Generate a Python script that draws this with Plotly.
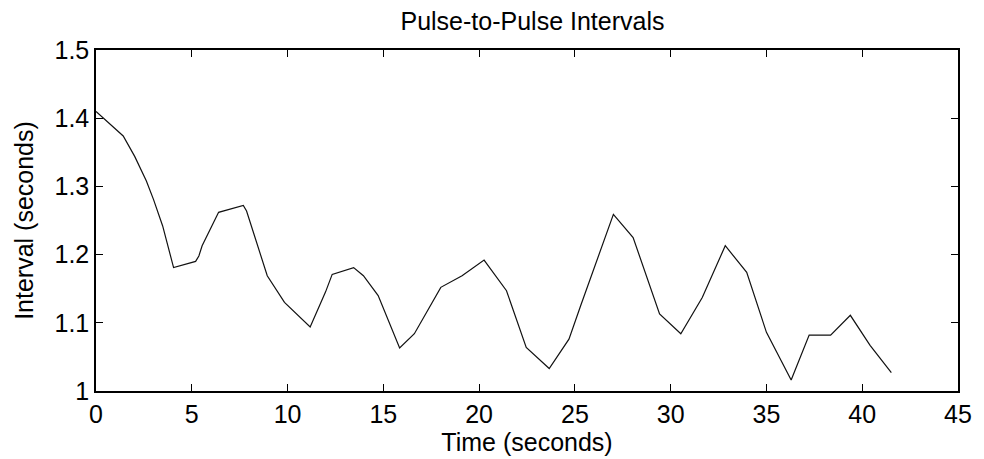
import plotly.graph_objects as go

time_s = [0.0, 1.42, 2.02, 2.63, 3.0, 3.48, 4.05, 5.2, 5.37, 5.54, 6.40, 7.09, 7.69, 7.86,
          8.38, 8.94, 9.84, 11.18, 11.98, 12.33, 13.45, 13.96, 14.73, 15.85, 16.62, 18.0,
          19.11, 20.26, 21.43, 22.46, 23.66, 24.69, 25.3, 27.01, 28.04, 29.42, 30.53,
          31.65, 32.85, 33.45, 33.97, 35.0, 36.29, 37.23, 38.35, 39.38, 40.41, 41.52]
interval_s = [1.41, 1.374, 1.344, 1.308, 1.281, 1.242, 1.181, 1.19, 1.198, 1.213, 1.262,
              1.267, 1.272, 1.264, 1.218, 1.169, 1.130, 1.094, 1.145, 1.171, 1.181, 1.169,
              1.140, 1.063, 1.084, 1.152, 1.169, 1.192, 1.147, 1.064, 1.033, 1.076, 1.125,
              1.259, 1.225, 1.113, 1.084, 1.137, 1.213, 1.193, 1.174, 1.086, 1.016, 1.082,
              1.082, 1.111, 1.067, 1.027]

x_ticks = [0, 5, 10, 15, 20, 25, 30, 35, 40, 45]
x_ticklabels = ["0", "5", "10", "15", "20", "25", "30", "35", "40", "45"]
y_ticks = [1.0, 1.1, 1.2, 1.3, 1.4, 1.5]
y_ticklabels = ["1", "1.1", "1.2", "1.3", "1.4", "1.5"]

FONT = "Liberation Sans, Arial, sans-serif"

fig = go.Figure()
fig.add_trace(go.Scatter(x=time_s, y=interval_s, mode="lines",
                         line=dict(color="#111111", width=1.2),
                         showlegend=False, hoverinfo="skip"))

axis_common = dict(showgrid=False, zeroline=False, showline=True, linecolor="black",
                   linewidth=1.5, mirror="allticks", ticks="inside", ticklen=7,
                   tickwidth=1.2, tickcolor="black",
                   tickfont=dict(family=FONT, size=25, color="black"))

fig.update_layout(
    width=984, height=459,
    margin=dict(l=96, r=15, t=50, b=67),
    paper_bgcolor="white", plot_bgcolor="white",
    title=dict(text="Pulse-to-Pulse Intervals", x=(96 + 969) / 2 / 984, xanchor="center",
               y=1 - 21 / 459, yanchor="middle", yref="container",
               font=dict(family=FONT, size=25, color="black")),
    xaxis=dict(range=[0, 45], tickvals=x_ticks, ticktext=x_ticklabels,
               title=dict(text="Time (seconds)", standoff=2,
                          font=dict(family=FONT, size=25, color="black")),
               **axis_common),
    yaxis=dict(range=[1.0, 1.5], tickvals=y_ticks, ticktext=y_ticklabels,
               title=dict(text="Interval (seconds)", standoff=14,
                          font=dict(family=FONT, size=25, color="black")),
               **axis_common),
)

fig.write_html("out.html")
